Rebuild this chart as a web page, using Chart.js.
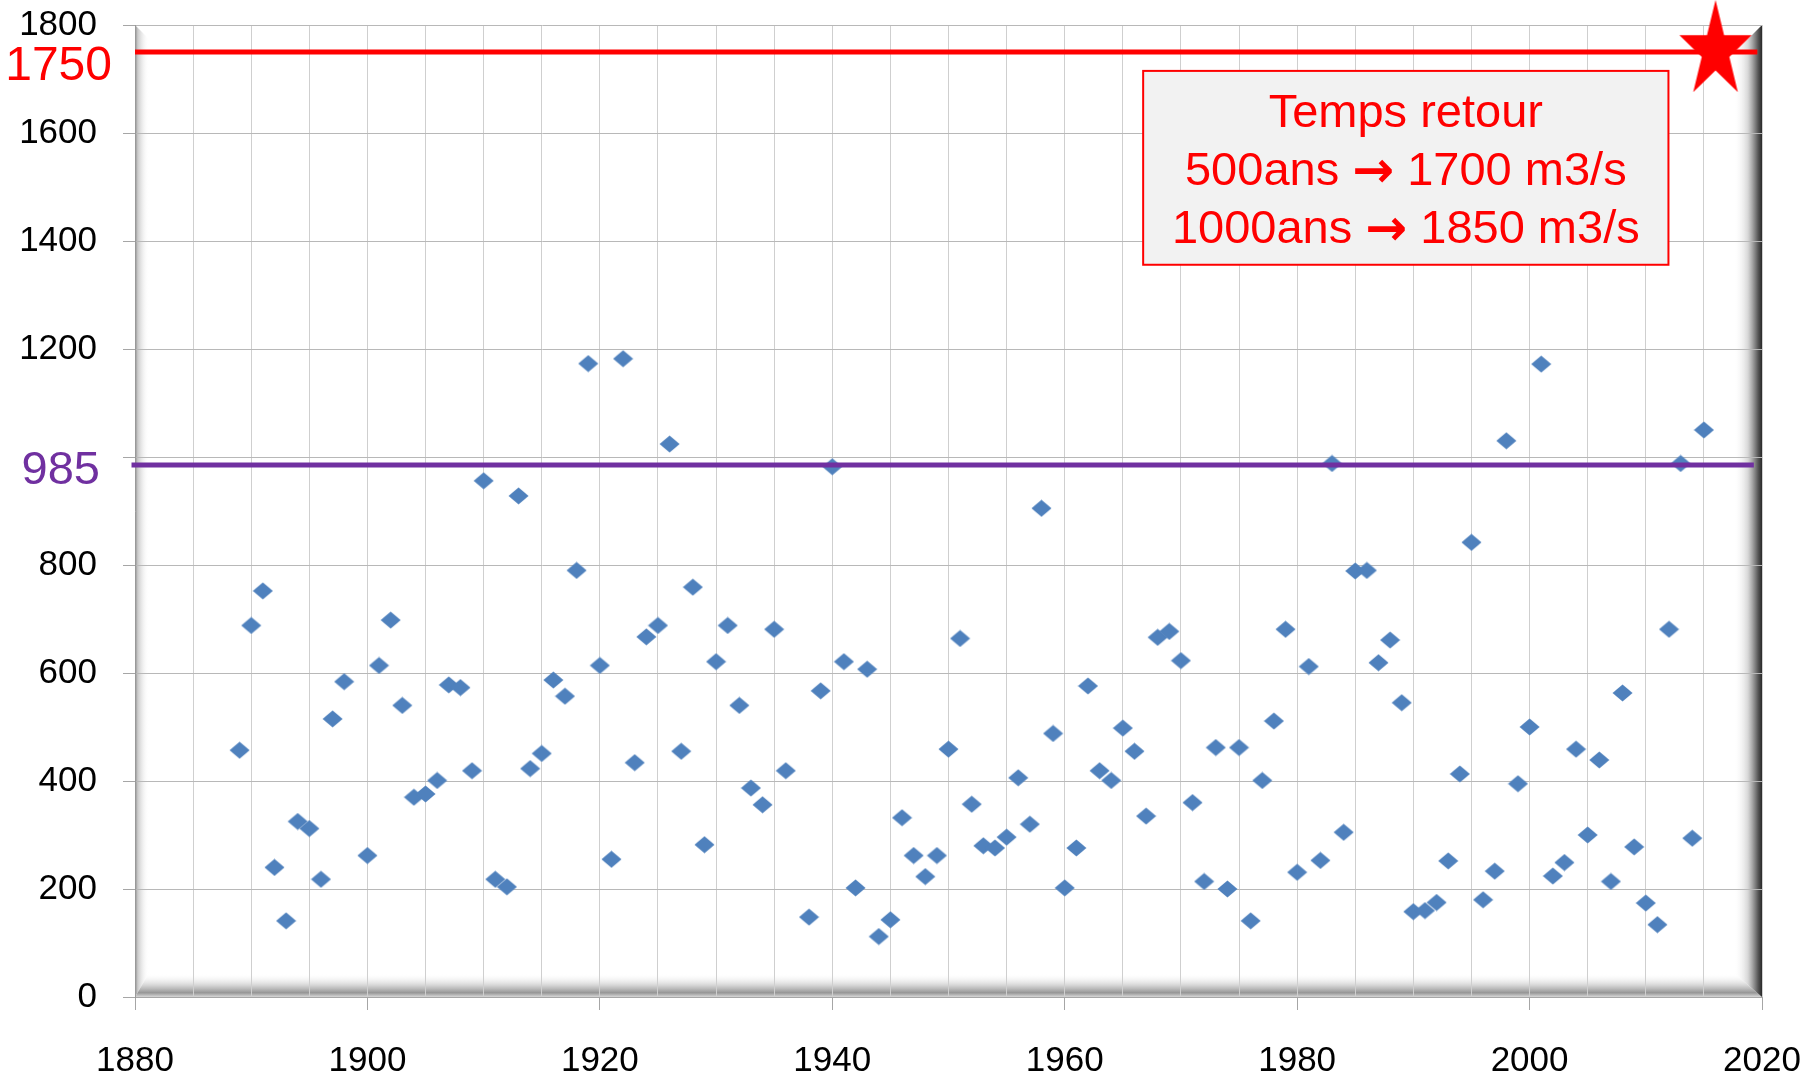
<!DOCTYPE html>
<html>
<head>
<meta charset="utf-8">
<script src="https://cdn.jsdelivr.net/npm/chart.js@4.4.1/dist/chart.umd.min.js"></script>
<style>
  html, body { margin: 0; padding: 0; background: #fff; }
  canvas { display: block; }
</style>
</head>
<body>
<canvas id="canvas1" width="1806" height="1078"></canvas>
<script>
// debits max annuels (m3/s)
const annees = [
  1889, 1890, 1891, 1892, 1893, 1894, 1895, 1896, 1897, 1898,
  1900, 1901, 1902, 1903, 1904, 1905, 1906, 1907, 1908, 1909,
  1910, 1911, 1912, 1913, 1914, 1915, 1916, 1917, 1918, 1919,
  1920, 1921, 1922, 1923, 1924, 1925, 1926, 1927, 1928, 1929,
  1930, 1931, 1932, 1933, 1934, 1935, 1936, 1938, 1939,
  1940, 1941, 1942, 1943, 1944, 1945, 1946, 1947, 1948, 1949,
  1950, 1951, 1952, 1953, 1954, 1955, 1956, 1957, 1958, 1959,
  1960, 1961, 1962, 1963, 1964, 1965, 1966, 1967, 1968, 1969,
  1970, 1971, 1972, 1973, 1974, 1975, 1976, 1977, 1978, 1979,
  1980, 1981, 1982, 1983, 1984, 1985, 1986, 1987, 1988, 1989,
  1990, 1991, 1992, 1993, 1994, 1995, 1996, 1997, 1998, 1999,
  2000, 2001, 2002, 2003, 2004, 2005, 2006, 2007, 2008, 2009,
  2010, 2011, 2012, 2013, 2014, 2015
];
const debits = [
  457, 688, 752, 240, 141, 325, 312, 218, 515, 584,
  262, 614, 698, 540, 370, 376, 401, 578, 573, 419,
  956, 218, 204, 928, 423, 451, 587, 557, 790, 1173,
  614, 255, 1182, 434, 667, 688, 1024, 455, 759, 282,
  621, 688, 540, 387, 356, 681, 419, 148, 567,
  982, 621, 202, 607, 112, 143, 332, 262, 223, 262,
  459, 664, 357, 280, 276, 296, 406, 320, 905, 488,
  202, 276, 576, 419, 401, 498, 455, 335, 666, 677,
  623, 360, 214, 462, 200, 462, 141, 401, 511, 681,
  231, 612, 253, 988, 305, 789, 790, 619, 661, 545,
  158, 160, 175, 252, 413, 842, 180, 233, 1030, 395,
  500, 1172, 224, 249, 459, 300, 439, 214, 563, 278,
  174, 134, 681, 988, 294, 1050
];
const seuilRouge = 1750;
const seuilViolet = 985;
const etoile = { x: 2016, y: 1752 };
// lignes de l'encadre : [avant fleche, apres fleche]
const encadre = [['Temps retour'], ['500ans', '1700 m3/s'], ['1000ans', '1850 m3/s']];

const points = annees.map((a, i) => ({ x: a, y: debits[i] }));

// losange bleu
const losange = document.createElement('canvas');
losange.width = 21;
losange.height = 18;
let c = losange.getContext('2d');
c.fillStyle = '#4F81BD';
c.beginPath();
c.moveTo(10.5, 0.5);
c.lineTo(20.5, 9);
c.lineTo(10.5, 17.5);
c.lineTo(0.5, 9);
c.closePath();
c.fill();

// etoile rouge
const star = document.createElement('canvas');
star.width = 80;
star.height = 106;
c = star.getContext('2d');
c.fillStyle = '#FF0000';
c.beginPath();
for (let i = 0; i < 10; i++) {
  const ang = -Math.PI / 2 + i * Math.PI / 5;
  const r = i % 2 === 0 ? 1 : 0.382;
  const px = 40 + r * 38 * Math.cos(ang);
  const py = 53 + r * 51 * Math.sin(ang);
  if (i === 0) c.moveTo(px, py); else c.lineTo(px, py);
}
c.closePath();
c.fill();

// cadre en relief du graphique
const relief = {
  id: 'relief',
  beforeDraw(chart) {
    const { ctx, chartArea: a } = chart;
    const L = a.left, R = a.right, T = a.top, B = a.bottom;
    ctx.save();
    let g = ctx.createLinearGradient(L, 0, L + 14, 0);
    g.addColorStop(0, 'rgba(120,120,120,0.9)');
    g.addColorStop(0.2, 'rgba(180,180,180,0.7)');
    g.addColorStop(1, 'rgba(255,255,255,0)');
    ctx.fillStyle = g;
    ctx.beginPath();
    ctx.moveTo(L, T); ctx.lineTo(L + 14, T + 14); ctx.lineTo(L + 14, B - 24); ctx.lineTo(L, B);
    ctx.closePath(); ctx.fill();

    g = ctx.createLinearGradient(0, B - 24, 0, B);
    g.addColorStop(0, 'rgba(255,255,255,0)');
    g.addColorStop(0.5, 'rgba(205,205,205,0.8)');
    g.addColorStop(0.82, 'rgba(150,150,150,1)');
    g.addColorStop(1, 'rgba(215,215,215,1)');
    ctx.fillStyle = g;
    ctx.beginPath();
    ctx.moveTo(L, B); ctx.lineTo(L + 14, B - 24); ctx.lineTo(R - 28, B - 24); ctx.lineTo(R, B);
    ctx.closePath(); ctx.fill();

    g = ctx.createLinearGradient(R - 28, 0, R, 0);
    g.addColorStop(0, 'rgba(255,255,255,0)');
    g.addColorStop(0.5, 'rgba(205,205,205,0.8)');
    g.addColorStop(0.85, 'rgba(90,90,90,1)');
    g.addColorStop(1, 'rgba(40,40,40,1)');
    ctx.fillStyle = g;
    ctx.beginPath();
    ctx.moveTo(R, T); ctx.lineTo(R - 28, T + 28); ctx.lineTo(R - 28, B - 24); ctx.lineTo(R, B);
    ctx.closePath(); ctx.fill();
    ctx.restore();
  }
};

// textes : seuils et encadre
const textes = {
  id: 'textes',
  afterDraw(chart) {
    const { ctx, scales } = chart;
    const xs = scales.x, ys = scales.y;
    ctx.save();
    ctx.textAlign = 'right';
    ctx.textBaseline = 'middle';
    ctx.font = '48px "Liberation Sans", Arial, sans-serif';
    ctx.fillStyle = '#FF0000';
    ctx.fillText(String(seuilRouge), 112, ys.getPixelForValue(seuilRouge) + 15);
    ctx.font = '47px "Liberation Sans", Arial, sans-serif';
    ctx.fillStyle = '#7030A0';
    ctx.fillText(String(seuilViolet), 100, ys.getPixelForValue(seuilViolet) + 6);

    const x0 = xs.getPixelForValue(1966.75), x1 = xs.getPixelForValue(2011.95);
    const y0 = ys.getPixelForValue(1715), y1 = ys.getPixelForValue(1356);
    ctx.fillStyle = '#F2F2F2';
    ctx.fillRect(x0, y0, x1 - x0, y1 - y0);
    ctx.strokeStyle = '#FF0000';
    ctx.lineWidth = 2;
    ctx.strokeRect(x0, y0, x1 - x0, y1 - y0);
    ctx.fillStyle = '#FF0000';
    ctx.textAlign = 'left';
    ctx.textBaseline = 'alphabetic';
    const fTexte = '47px "Liberation Sans", Arial, sans-serif';
    const fFleche = 'bold 50px "DejaVu Sans", sans-serif';
    const cx = (x0 + x1) / 2;
    encadre.forEach((parts, i) => {
      const yb = y0 + 56 + i * 58;
      ctx.font = fTexte;
      if (parts.length === 1) {
        const w = ctx.measureText(parts[0]).width;
        ctx.fillText(parts[0], cx - w / 2, yb);
        return;
      }
      const a = parts[0] + ' ', b = ' ' + parts[1];
      const wa = ctx.measureText(a).width, wb = ctx.measureText(b).width;
      ctx.font = fFleche;
      const wf = ctx.measureText('\u2192').width;
      let x = cx - (wa + wf + wb) / 2;
      ctx.font = fTexte;
      ctx.fillText(a, x, yb);
      x += wa;
      ctx.font = fFleche;
      ctx.fillText('\u2192', x, yb + 2);
      x += wf;
      ctx.font = fTexte;
      ctx.fillText(b, x, yb);
    });
    ctx.restore();
  }
};

new Chart(canvas1, {
  type: 'scatter',
  data: {
    datasets: [
      {
        label: 'etoile',
        data: [etoile],
        pointStyle: star,
        pointRadius: 40,
        clip: false
      },
      {
        label: 'seuil 985',
        type: 'line',
        data: [{ x: 1879.7, y: seuilViolet }, { x: 2019.3, y: seuilViolet }],
        borderColor: '#7030A0',
        borderWidth: 5,
        pointRadius: 0,
        clip: false
      },
      {
        label: 'seuil 1750',
        type: 'line',
        data: [{ x: 1880, y: seuilRouge }, { x: 2019.6, y: seuilRouge }],
        borderColor: '#FF0000',
        borderWidth: 5,
        pointRadius: 0
      },
      {
        label: 'debits',
        data: points,
        pointStyle: losange,
        pointRadius: 10
      }
    ]
  },
  options: {
    responsive: false,
    animation: false,
    events: [],
    layout: {
      autoPadding: false,
      padding: { top: 25, right: 44, left: 0, bottom: 0 }
    },
    plugins: {
      legend: { display: false },
      tooltip: { enabled: false }
    },
    scales: {
      x: {
        type: 'linear',
        min: 1880,
        max: 2020,
        afterFit: s => {
          s.height = 81;
          s.paddingLeft = 0; s.paddingRight = 0;
        },
        border: { color: '#A6A6A6', width: 1 },
        grid: {
          color: '#CFCFCF',
          lineWidth: 1,
          tickLength: 13,
          tickColor: ctx => (ctx.tick && ctx.tick.value % 20 === 0) ? '#A6A6A6' : 'rgba(0,0,0,0)'
        },
        ticks: {
          stepSize: 5,
          autoSkip: false,
          maxRotation: 0,
          padding: 30,
          color: '#000',
          font: { family: '"Liberation Sans", Arial, sans-serif', size: 35 },
          callback: v => (v % 20 === 0 ? String(v) : '')
        }
      },
      y: {
        min: 0,
        max: 1800,
        afterFit: s => {
          s.width = 135;
          s.paddingTop = 0; s.paddingBottom = 0;
        },
        border: { color: '#999999', width: 1 },
        grid: {
          color: '#B8B8B8',
          lineWidth: 1,
          tickLength: 12,
          tickColor: '#A6A6A6'
        },
        ticks: {
          stepSize: 200,
          padding: 26,
          color: '#000',
          font: { family: '"Liberation Sans", Arial, sans-serif', size: 35 },
          callback: v => (v === 1000 ? '' : String(v))
        }
      }
    }
  },
  plugins: [relief, textes]
});
</script>
</body>
</html>
